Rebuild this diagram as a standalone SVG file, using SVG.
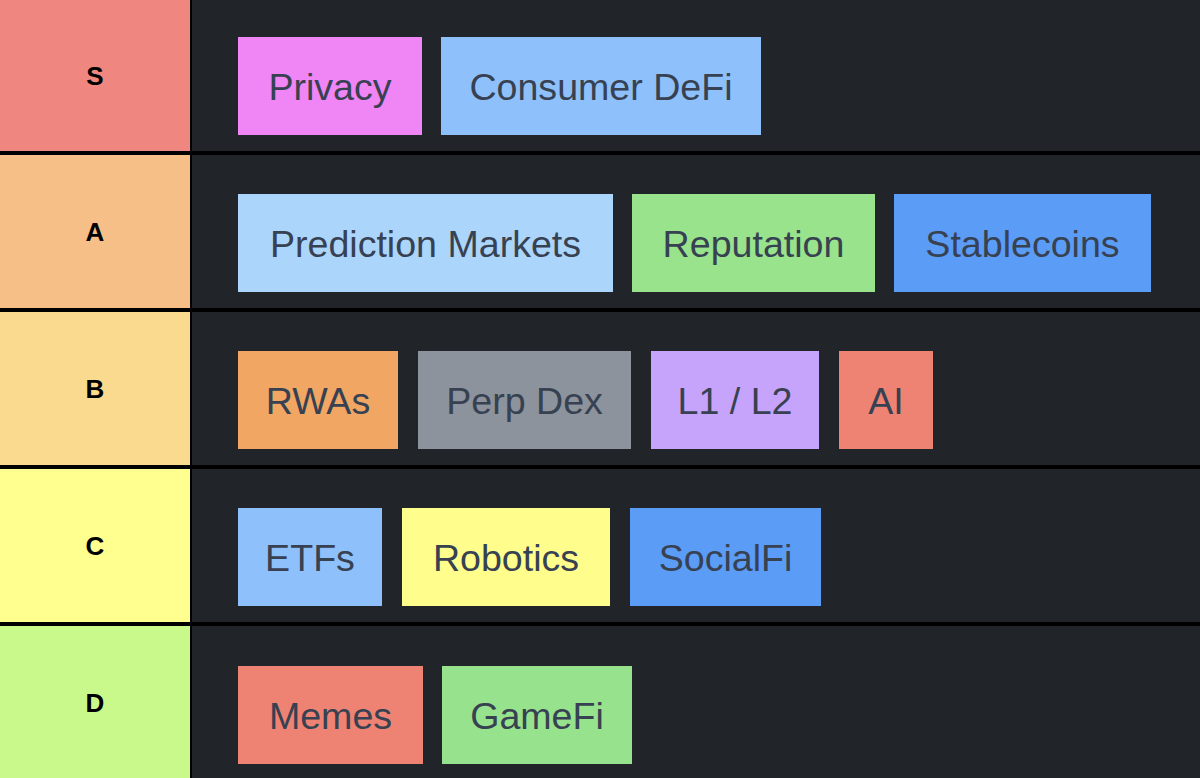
<svg xmlns="http://www.w3.org/2000/svg" width="1200" height="778" viewBox="0 0 1200 778">
<style>
.lbl{font-family:"Liberation Sans",Arial,sans-serif;font-weight:bold;font-size:26px;fill:#000;text-anchor:middle}
.it{font-family:"Liberation Sans",Arial,sans-serif;font-size:37.6px;fill:#374151;text-anchor:middle}
.row{fill:#212429}
</style>
<rect x="0" y="0" width="1200" height="778" fill="#000"/>
<g id="tier-S">
<rect x="0" y="0" width="190" height="151" fill="#ef8680"/>
<rect class="row" x="192" y="0" width="1008" height="151"/>
<text class="lbl" x="95" y="85">S</text>
</g>
<g id="tier-A">
<rect x="0" y="155" width="190" height="153" fill="#f5bf87"/>
<rect class="row" x="192" y="155" width="1008" height="153"/>
<text class="lbl" x="95" y="241">A</text>
</g>
<g id="tier-B">
<rect x="0" y="312" width="190" height="153" fill="#f9da8e"/>
<rect class="row" x="192" y="312" width="1008" height="153"/>
<text class="lbl" x="95" y="398">B</text>
</g>
<g id="tier-C">
<rect x="0" y="469" width="190" height="153" fill="#ffff8f"/>
<rect class="row" x="192" y="469" width="1008" height="153"/>
<text class="lbl" x="95" y="555">C</text>
</g>
<g id="tier-D">
<rect x="0" y="626" width="190" height="152" fill="#caf98b"/>
<rect class="row" x="192" y="626" width="1008" height="152"/>
<text class="lbl" x="95" y="712">D</text>
</g>
<g id="privacy"><rect x="238" y="37" width="184" height="98" fill="#f085f6"/><text class="it" x="330" y="100">Privacy</text></g>
<g id="consumer-defi"><rect x="441" y="37" width="320" height="98" fill="#8ec0fb"/><text class="it" x="601" y="100">Consumer DeFi</text></g>
<g id="prediction-markets"><rect x="238" y="194" width="375" height="98" fill="#acd5fb"/><text class="it" x="425.5" y="257">Prediction Markets</text></g>
<g id="reputation"><rect x="632" y="194" width="243" height="98" fill="#98e38c"/><text class="it" x="753.5" y="257">Reputation</text></g>
<g id="stablecoins"><rect x="894" y="194" width="257" height="98" fill="#5b9cf6"/><text class="it" x="1022.5" y="257">Stablecoins</text></g>
<g id="rwas"><rect x="238" y="351" width="160" height="98" fill="#f2a663"/><text class="it" x="318" y="414">RWAs</text></g>
<g id="perp-dex"><rect x="418" y="351" width="213" height="98" fill="#8c939c"/><text class="it" x="524.5" y="414">Perp Dex</text></g>
<g id="l1-l2"><rect x="651" y="351" width="168" height="98" fill="#c6a4fb"/><text class="it" x="735" y="414">L1 / L2</text></g>
<g id="ai"><rect x="839" y="351" width="94" height="98" fill="#ef8373"/><text class="it" x="886" y="414">AI</text></g>
<g id="etfs"><rect x="238" y="508" width="144" height="98" fill="#8ec0fb"/><text class="it" x="310" y="571">ETFs</text></g>
<g id="robotics"><rect x="402" y="508" width="208" height="98" fill="#fffd8c"/><text class="it" x="506" y="571">Robotics</text></g>
<g id="socialfi"><rect x="630" y="508" width="191" height="98" fill="#5b9cf6"/><text class="it" x="725.5" y="571">SocialFi</text></g>
<g id="memes"><rect x="238" y="666" width="185" height="98" fill="#ef8373"/><text class="it" x="330.5" y="729">Memes</text></g>
<g id="gamefi"><rect x="442" y="666" width="190" height="98" fill="#97e28d"/><text class="it" x="537" y="729">GameFi</text></g>
<g id="connectors"></g>
</svg>
